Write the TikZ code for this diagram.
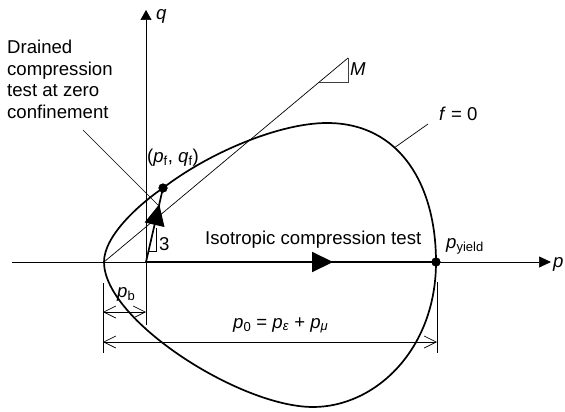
\documentclass[tikz,border=0pt]{standalone}
\usepackage{fontspec}
\setmainfont{Liberation Sans}
\usetikzlibrary{arrows.meta,decorations.markings}
\begin{document}
\begin{tikzpicture}[x=1pt,y=-1pt,
  thinline/.style={line width=0.7pt},
  thickline/.style={line width=1.7pt},
  dimline/.style={line width=0.7pt,{Straight Barb[length=12pt,width=12pt]}-{Straight Barb[length=12pt,width=12pt]}},
  lbl/.style={font=\fontsize{18.6}{21.5}\selectfont,inner sep=0pt},
  dotnode/.style={circle,fill=black,inner sep=0pt,minimum size=9pt},
  midarrow/.style={postaction={decorate,decoration={markings,mark=at position #1 with {\arrow{Triangle[length=21pt,width=20pt]}}}}}
]
\useasboundingbox (0,0) rectangle (565,412);

% key points
\coordinate (O) at (146,262);
\coordinate (axL) at (12,262);
\coordinate (axR) at (551,262);
\coordinate (qlow) at (146,325);
\coordinate (qtop) at (146,10);
\coordinate (tip) at (104,262);
\coordinate (top) at (327,123);
\coordinate (bot) at (313,407);
\coordinate (Mend) at (348,58);
\coordinate (Mcorner) at (348,82);
\coordinate (Mfoot) at (319,82);

% points
\node[dotnode] (F) at (163,188) {};
\node[dotnode] (Y) at (436,262) {};

% yield surface
\draw[thickline] (tip) .. controls (104,235) and (141,203) .. (F.center)
  .. controls (210,152) and (280,123) .. (top)
  .. controls (400,123) and (436,185) .. (Y.center)
  .. controls (436,350) and (375,407) .. (bot)
  .. controls (240,407) and (104,320) .. (tip) -- cycle;

% redraw dots on top
\fill (F) circle (4.5pt);
\fill (Y) circle (4.5pt);

% axes
\draw[thinline,-{Triangle[length=12pt,width=11pt]}] (axL) -- (axR);
\draw[thinline,-{Triangle[length=10pt,width=11pt]}] (qlow) -- (qtop);

% critical state line M
\draw[thinline] (tip) -- (Mend);
\draw[thinline,black!75] (Mfoot) -- (Mcorner) -- (Mend);

% isotropic compression path
\draw[thickline,midarrow=0.645] (O) -- (Y.center);
% stress path slope 3
\draw[thickline,midarrow=0.78] (O) -- (F.center);
\draw[thinline] (148.5,251) -- (156,251) -- (156,228);

% leaders
\coordinate (dr1) at (83,130);
\coordinate (dr2) at (160,207);
\draw[thinline] (dr1) -- (dr2);
\coordinate (f1) at (394,148);
\coordinate (f2) at (428,124);
\draw[thinline] (f1) -- (f2);

% dimension lines
\coordinate (eL1) at (103,283);
\coordinate (eL2) at (103,353);
\coordinate (eR1) at (437,282);
\coordinate (eR2) at (437,353);
\draw[thinline] (eL1) -- (eL2);
\draw[thinline] (eR1) -- (eR2);
\coordinate (pbL) at (103,312);
\coordinate (pbR) at (146,312);
\draw[dimline] (pbL) -- (pbR);
\coordinate (p0L) at (103,342);
\coordinate (p0R) at (437,342);
\draw[dimline] (p0L) -- (p0R);

% labels
\node[lbl,anchor=north west,align=left] (drained) at (7,40) {Drained\\compression\\test at zero\\confinement};
\node[lbl,anchor=base west] (qlab) at (156,20) {\textit{q}};
\node[lbl,anchor=base west] (plab) at (553,267) {\textit{p}};
\node[lbl,anchor=base west] (Mlab) at (350,76) {\textit{M}};
\node[lbl,anchor=base west] (flab) at (439,121) {\textit{f} = 0};
\node[lbl,anchor=base west] (pflab) at (147,162) {(\textit{p}\textsubscript{f}, \textit{q}\textsubscript{f})};
\node[lbl,anchor=base west] (pylab) at (446,248) {\textit{p}\textsubscript{yield}};
\node[lbl,anchor=base west] (pblab) at (117,297) {\textit{p}\textsubscript{b}};
\node[lbl,anchor=base west] (threelab) at (159,250) {3};
\node[lbl,anchor=base west] (isolab) at (205,244) {Isotropic compression test};
\node[lbl,anchor=base west] (p0lab) at (233,328) {\textit{p}\textsubscript{0} = \textit{p}\textsubscript{\textit{ε}} + \textit{p}\textsubscript{\textit{μ}}};
\end{tikzpicture}
\end{document}
